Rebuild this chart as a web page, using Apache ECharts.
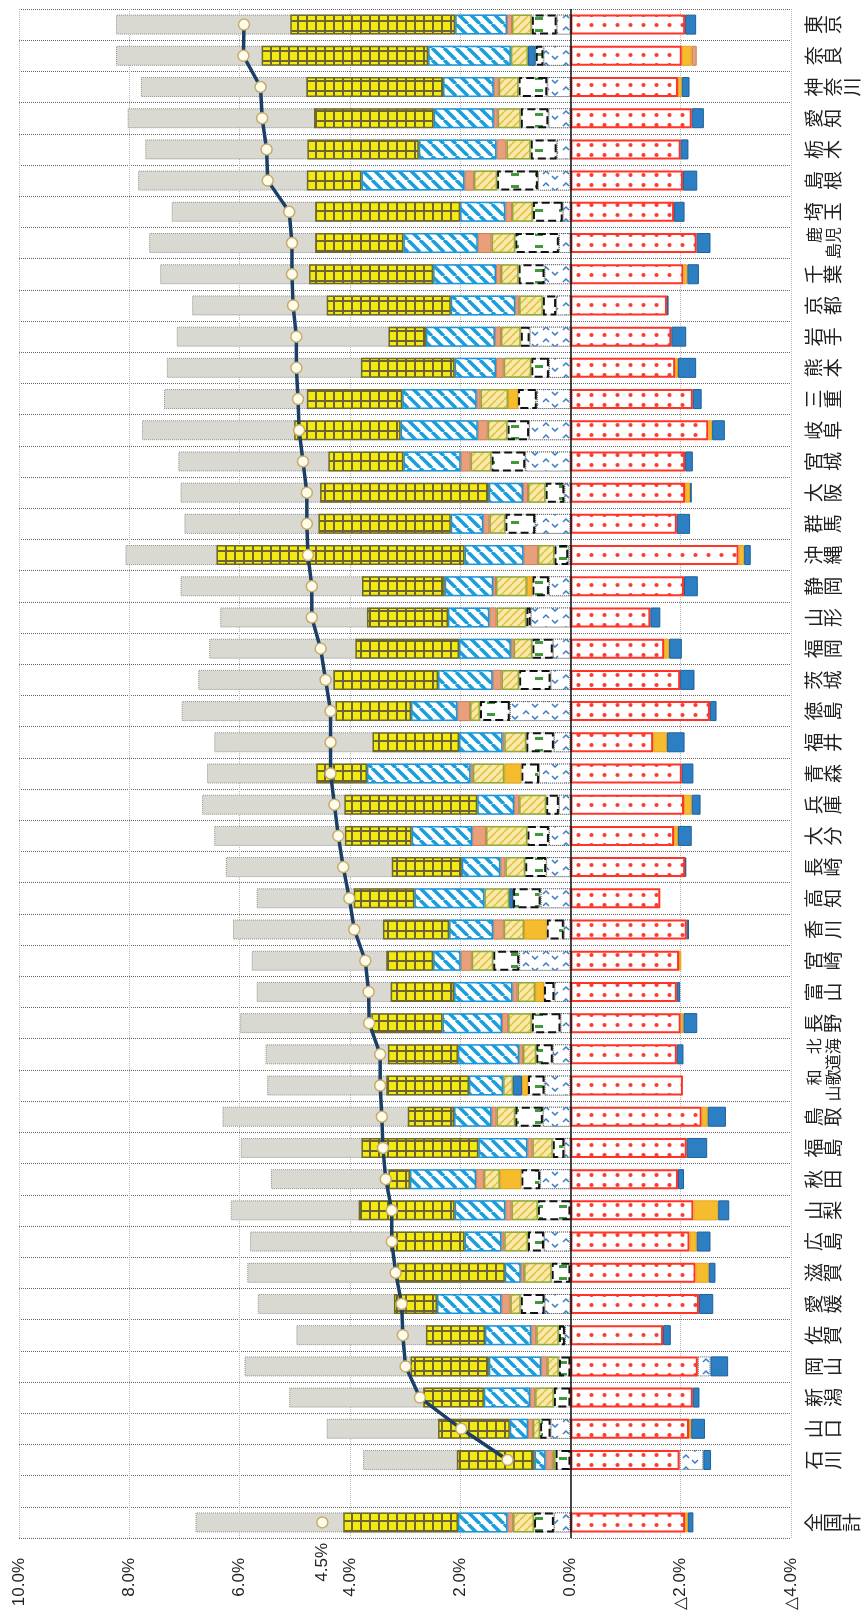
<!DOCTYPE html>
<html>
<head>
<meta charset="utf-8">
<script src="https://cdn.jsdelivr.net/npm/echarts@6/dist/echarts.min.js"></script>
<style>
  html, body { margin: 0; padding: 0; background: #fff; }
  #chart { width: 868px; height: 1621px; }
</style>
</head>
<body>
<div id="chart"></div>
<script>
// prefectures, top to bottom
var categories = ['東京', '奈良', '神奈川', '愛知', '栃木', '島根', '埼玉', '鹿児島', '千葉', '京都',
    '岩手', '熊本', '三重', '岐阜', '宮城', '大阪', '群馬', '沖縄', '静岡', '山形',
    '福岡', '茨城', '徳島', '福井', '青森', '兵庫', '大分', '長崎', '高知', '香川',
    '宮崎', '富山', '長野', '北海道', '和歌山', '鳥取', '福島', '秋田', '山梨', '広島',
    '滋賀', '愛媛', '佐賀', '岡山', '新潟', '山口', '石川', '', '全国計'];

var greyBar = [8.24, 8.24, 7.79, 8.03, 7.71, 7.84, 7.23, 7.64, 7.44, 6.86,
    7.14, 7.32, 7.37, 7.77, 7.11, 7.07, 7.0, 8.07, 7.07, 6.35,
    6.55, 6.75, 7.05, 6.46, 6.59, 6.68, 6.46, 6.25, 5.69, 6.12,
    5.78, 5.69, 5.99, 5.53, 5.5, 6.31, 5.98, 5.43, 6.16, 5.81,
    5.86, 5.67, 4.97, 5.91, 5.1, 4.42, 3.76, null, 6.8];

var redDots = [-2.08, -2.02, -1.95, -2.2, -2.0, -2.04, -1.88, -2.29, -2.05, -1.75,
    -1.83, -1.9, -2.22, -2.5, -2.08, -2.08, -1.93, -3.05, -2.06, -1.45,
    -1.7, -1.99, -2.53, -1.5, -2.02, -2.06, -1.88, -2.08, -1.63, -2.11,
    -1.97, -1.93, -2.0, -1.93, -2.04, -2.38, -2.11, -1.95, -2.23, -2.16,
    -2.27, -2.33, -1.68, -2.31, -2.22, -2.15, -1.98, null, -2.08];

var caret = [0.25, 0.49, 0.42, 0.4, 0.25, 0.59, 0.14, 0.21, 0.47, 0.26,
    0.74, 0.39, 0.61, 0.75, 0.82, 0.11, 0.64, 0.04, 0.39, 0.72,
    0.32, 0.36, 1.1, 0.3, 0.57, 0.21, 0.39, 0.44, 0.54, 0.12,
    0.93, 0.29, 0.18, 0.32, 0.47, 0.5, 0.11, 0.55, 0, 0.48,
    0, 0.47, 0.1, -0.23, 0, 0.36, -0.43, null, 0.3];

var greenDash = [0.45, 0.14, 0.52, 0.5, 0.47, 0.74, 0.54, 0.79, 0.47, 0.24,
    0.16, 0.32, 0.34, 0.39, 0.61, 0.34, 0.54, 0.25, 0.3, 0.08,
    0.37, 0.57, 0.54, 0.5, 0.32, 0.23, 0.39, 0.38, 0.5, 0.31,
    0.47, 0.19, 0.52, 0.3, 0.3, 0.5, 0.21, 0.34, 0.59, 0.29,
    0.34, 0.43, 0.11, 0.21, 0.3, 0.19, 0.27, null, 0.36];

var gold = [0, -0.18, -0.07, 0, 0, 0, 0, 0, -0.07, 0,
    0, -0.05, 0.18, -0.07, 0, -0.09, 0, -0.1, 0.1, 0,
    -0.09, 0, 0, -0.25, 0.31, -0.14, -0.07, 0, 0, 0.41,
    -0.04, 0.16, -0.05, 0, 0.11, -0.11, 0, 0.39, -0.45, -0.13,
    -0.24, 0, 0, 0, 0, -0.04, 0, null, -0.05];

var steelBlue = [-0.2, 0.14, -0.14, -0.22, -0.14, -0.26, -0.19, -0.25, -0.21, -0.03,
    -0.27, -0.33, -0.16, -0.23, -0.14, -0.03, -0.24, -0.12, -0.25, -0.18,
    -0.23, -0.26, -0.12, -0.32, -0.21, -0.16, -0.25, -0.02, 0.07, -0.04,
    0, -0.06, -0.25, -0.12, 0.16, -0.33, -0.37, -0.11, -0.2, -0.25,
    -0.12, -0.26, -0.14, -0.32, -0.12, -0.25, -0.14, null, -0.1];

var yellowHatch = [0.36, 0.31, 0.36, 0.42, 0.44, 0.42, 0.38, 0.43, 0.32, 0.43,
    0.36, 0.5, 0.5, 0.36, 0.38, 0.32, 0.29, 0.3, 0.56, 0.54,
    0.34, 0.32, 0.18, 0.4, 0.57, 0.49, 0.75, 0.36, 0.45, 0.37,
    0.39, 0.32, 0.43, 0.24, 0.18, 0.34, 0.37, 0.29, 0.48, 0.43,
    0.5, 0.19, 0.41, 0.21, 0.34, 0.13, 0.05, null, 0.38];

var salmon = [0.09, -0.09, 0.09, 0.07, 0.18, 0.17, 0.12, 0.25, 0.09, 0.07,
    0.11, 0.14, 0.07, 0.18, 0.18, 0.09, 0.11, 0.26, 0.05, 0.13,
    0.05, 0.16, 0.23, 0.03, 0.04, 0.09, 0.25, 0.09, 0, 0.19,
    0.2, 0.09, 0.11, 0.07, 0, 0.09, 0.09, 0.14, 0.11, 0.05,
    0.06, 0.16, 0.09, 0.11, 0.09, 0.09, 0.13, null, 0.1];

var blueStripe = [0.94, 1.5, 0.92, 1.09, 1.41, 1.87, 0.82, 1.35, 1.14, 1.17,
    1.25, 0.75, 1.35, 1.4, 1.04, 0.62, 0.59, 1.07, 0.88, 0.75,
    0.94, 0.99, 0.84, 0.79, 1.88, 0.67, 1.1, 0.7, 1.27, 0.8,
    0.5, 1.06, 1.08, 1.11, 0.62, 0.68, 0.89, 1.2, 0.92, 0.67,
    0.29, 1.17, 0.84, 0.95, 0.84, 0.33, 0.2, null, 0.9];

var yellowGrid = [2.99, 3.02, 2.48, 2.17, 2.02, 0.99, 2.63, 1.6, 2.25, 2.25,
    0.68, 1.7, 1.73, 1.93, 1.36, 3.06, 2.4, 4.5, 1.5, 1.47,
    1.88, 1.9, 1.37, 1.57, 0.92, 2.41, 1.21, 1.27, 1.1, 1.2,
    0.85, 1.15, 1.29, 1.27, 1.5, 0.84, 2.12, 0.39, 1.74, 1.35,
    1.95, 0.78, 1.07, 1.42, 1.1, 1.3, 1.41, null, 2.08];

var lineVal = [5.92, 5.93, 5.62, 5.59, 5.51, 5.49, 5.10, 5.05, 5.05, 5.03,
    4.97, 4.97, 4.94, 4.92, 4.85, 4.78, 4.78, 4.76, 4.69, 4.69,
    4.53, 4.44, 4.35, 4.35, 4.35, 4.28, 4.21, 4.12, 4.01, 3.92,
    3.72, 3.66, 3.65, 3.45, 3.45, 3.42, 3.4, 3.35, 3.24, 3.24,
    3.17, 3.06, 3.04, 2.99, 2.73, 1.98, 1.14, null, 4.5];

// the extra 4.5% tick sits on its own axis
var specialTick = 4.5;
// labels that wrap onto two rows
var wrappedNames = ['鹿児島', '北海道', '和歌山'];

function pattern(w, h, bg, draw) {
    var c = document.createElement('canvas');
    c.width = w;
    c.height = h;
    var ctx = c.getContext('2d');
    ctx.fillStyle = bg;
    ctx.fillRect(0, 0, w, h);
    draw(ctx, w, h);
    return { image: c, repeat: 'repeat' };
}

var gridFill = pattern(9, 10, '#f3ea12', function(ctx, w, h) {
    ctx.fillStyle = '#6f6338';
    ctx.fillRect(0, 0, 2, h);
    ctx.fillRect(0, 0, w, 2);
});
var stripeFill = pattern(12, 12, '#ffffff', function(ctx, w, h) {
    ctx.strokeStyle = '#1b9fdc';
    ctx.lineWidth = 3.5;
    [-12, 0, 12].forEach(function(k) {
        ctx.beginPath();
        ctx.moveTo(k, 0);
        ctx.lineTo(k + 12, 12);
        ctx.stroke();
    });
});
var hatchFill = pattern(8, 8, '#f6e8ae', function(ctx, w, h) {
    ctx.strokeStyle = '#e6c43c';
    ctx.lineWidth = 1.6;
    [-8, 0, 8].forEach(function(k) {
        ctx.beginPath();
        ctx.moveTo(k, 8);
        ctx.lineTo(k + 8, 0);
        ctx.stroke();
    });
});
var dashFill = pattern(24, 12, '#ffffff', function(ctx) {
    ctx.fillStyle = '#3f9a3c';
    ctx.fillRect(7, 5, 8, 3);
});
var caretFill = pattern(20, 12, '#ffffff', function(ctx) {
    ctx.strokeStyle = '#3b7cc8';
    ctx.lineWidth = 1.5;
    ctx.beginPath();
    ctx.moveTo(3, 6); ctx.lineTo(6, 3); ctx.lineTo(9, 6);
    ctx.moveTo(12, 8); ctx.lineTo(15, 11); ctx.lineTo(18, 8);
    ctx.stroke();
});
var dotFill = pattern(13, 10, '#ffffff', function(ctx) {
    ctx.fillStyle = '#ff3b2e';
    ctx.beginPath();
    ctx.arc(6.5, 5, 2.1, 0, Math.PI * 2);
    ctx.fill();
});

function nz(arr) {
    return arr.map(function(v) { return v === 0 ? null : v; });
}

function seg(name, data, fill, border, borderType, borderWidth) {
    return {
        name: name,
        type: 'bar',
        stack: 'total',
        data: nz(data),
        barWidth: 20,
        barGap: '-100%',
        itemStyle: {
            color: fill,
            borderColor: border,
            borderType: borderType || 'solid',
            borderWidth: borderWidth == null ? 1.5 : borderWidth
        }
    };
}

var dotSeries = seg('redDots', redDots, dotFill, '#ff3326', 'solid', 2);
dotSeries.markLine = {
    silent: true,
    symbol: 'none',
    label: { show: false },
    lineStyle: { color: '#111', width: 1.5, type: 'solid' },
    data: [{ xAxis: 0 }]
};

var myChart = echarts.init(document.getElementById('chart'));

var option = {
    animation: false,
    backgroundColor: '#ffffff',
    grid: {
        left: 19,
        right: 77,
        top: 9,
        bottom: 83,
        containLabel: false,
        outerBoundsMode: 'none'
    },
    xAxis: [{
        type: 'value',
        min: -4,
        max: 10,
        interval: 2,
        inverse: true,
        position: 'bottom',
        axisLine: { show: false },
        axisTick: { show: false },
        splitLine: { show: true, lineStyle: { color: '#b8b8b8', type: 'dotted', width: 1 } },
        axisLabel: {
            rotate: 90,
            margin: 20,
            fontSize: 17,
            color: '#222',
            fontFamily: 'Liberation Sans',
            formatter: function(v) {
                if (v < 0) return '△' + Math.abs(v).toFixed(1) + '%';
                return v.toFixed(1) + '%';
            }
        }
    }, {
        type: 'value',
        min: -4,
        max: 10,
        interval: 0.5,
        inverse: true,
        position: 'bottom',
        axisLine: { show: false },
        axisTick: { show: false },
        splitLine: { show: false },
        axisLabel: {
            rotate: 90,
            margin: 5,
            fontSize: 17,
            color: '#222',
            fontFamily: 'Liberation Sans',
            formatter: function(v) {
                return Math.abs(v - specialTick) < 1e-6 ? v.toFixed(1) + '%' : '';
            }
        }
    }],
    yAxis: {
        type: 'category',
        data: categories,
        inverse: true,
        position: 'right',
        axisLine: { show: false },
        axisTick: { show: false },
        splitLine: { show: true, interval: 0, lineStyle: { color: '#666', type: 'dotted', width: 1 } },
        axisLabel: {
            interval: 0,
            rotate: 90,
            margin: 13,
            fontSize: 19,
            lineHeight: 19,
            color: '#222',
            fontFamily: 'Noto Sans CJK JP',
            rich: {
                w: { fontSize: 16, lineHeight: 19, color: '#222', fontFamily: 'Noto Sans CJK JP' }
            },
            formatter: function(v) {
                if (!v) return '';
                if (wrappedNames.indexOf(v) >= 0) {
                    return '{w|\u3000' + v[0] + '}\n{w|' + v[2] + v[1] + '}';
                }
                return v.split('').join('\n');
            }
        }
    },
    series: [
        {
            name: 'grey',
            type: 'bar',
            data: greyBar,
            barWidth: 20,
            barGap: '-100%',
            itemStyle: { color: '#d9d9d2', borderColor: '#8e8e8e', borderType: 'dotted', borderWidth: 1 }
        },
        dotSeries,
        seg('caret', caret, caretFill, '#555', 'dotted', 1),
        seg('greenDash', greenDash, dashFill, '#111', 'dashed', 2),
        seg('gold', gold, '#f5bd2e', '#e2a21c', 'solid', 1),
        seg('steelBlue', steelBlue, '#2d7fc4', '#1f5f98', 'solid', 1),
        seg('yellowHatch', yellowHatch, hatchFill, '#8faa3a', 'solid', 1.5),
        seg('salmon', salmon, '#e9a07a', '#c9805e', 'solid', 1),
        seg('blueStripe', blueStripe, stripeFill, '#1e93d6', 'solid', 1.5),
        seg('yellowGrid', yellowGrid, gridFill, '#6d6a2a', 'solid', 1.5),
        {
            name: 'line',
            type: 'line',
            data: lineVal,
            z: 10,
            connectNulls: false,
            symbol: 'circle',
            symbolSize: 11,
            showSymbol: true,
            lineStyle: { color: '#1b3f66', width: 3.5 },
            itemStyle: { color: '#fffbe6', borderColor: '#c4ad6e', borderWidth: 1.5 }
        }
    ]
};

myChart.setOption(option);
</script>
</body>
</html>
